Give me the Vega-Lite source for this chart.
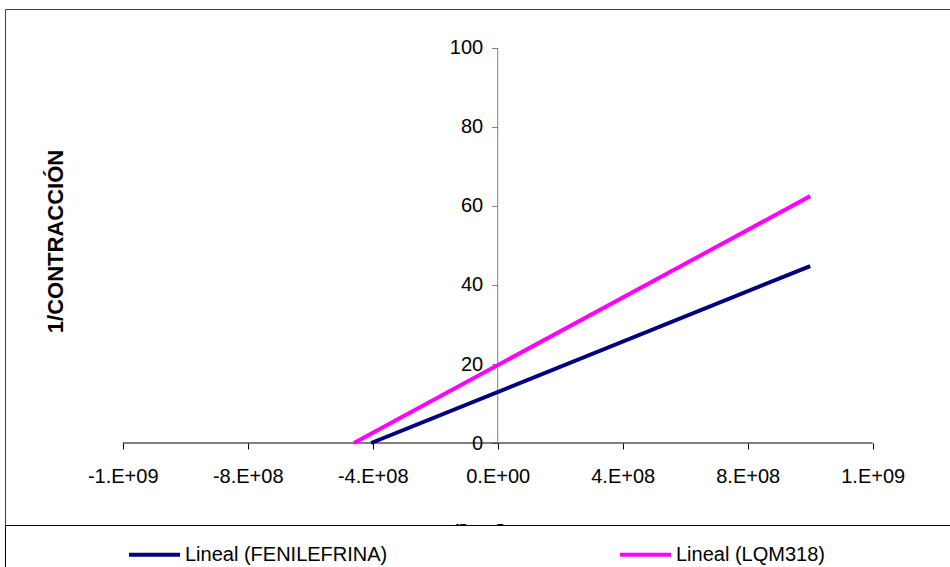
{
  "$schema": "https://vega.github.io/schema/vega-lite/v6.json",
  "width": 945,
  "height": 558,
  "autosize": {"type": "none"},
  "padding": {"left": 5, "top": 9, "right": 0, "bottom": 0},
  "background": "#ffffff",
  "config": {
    "view": {"stroke": "#404040", "strokeWidth": 1},
    "font": "Liberation Sans"
  },
  "layer": [
    {
      "data": {"values": [{}]},
      "mark": {"type": "rule", "color": "#000000", "strokeWidth": 1},
      "encoding": {
        "x": {"datum": -1200000000, "type": "quantitative"},
        "x2": {"datum": 1200000000},
        "y": {"datum": 0, "type": "quantitative"}
      }
    },
    {
      "data": {"values": [{}]},
      "mark": {"type": "rule", "color": "#808080", "strokeWidth": 1},
      "encoding": {
        "x": {"datum": 0, "type": "quantitative"},
        "y": {"datum": 0, "type": "quantitative"},
        "y2": {"datum": 100}
      }
    },
    {
      "data": {
        "values": [
          {"x": -405000000, "y": 0, "serie": "Lineal (FENILEFRINA)"},
          {"x": 1000000000, "y": 44.8, "serie": "Lineal (FENILEFRINA)"},
          {"x": -460000000, "y": 0, "serie": "Lineal (LQM318)"},
          {"x": 1000000000, "y": 62.5, "serie": "Lineal (LQM318)"}
        ]
      },
      "mark": {"type": "line", "strokeWidth": 4},
      "encoding": {
        "x": {
          "field": "x",
          "type": "quantitative",
          "scale": {"domain": [-1576640000, 1447360000], "nice": false, "zero": false},
          "axis": {
            "orient": "bottom",
            "offset": -124,
            "values": [-1200000000, -800000000, -400000000, 0, 400000000, 800000000, 1200000000],
            "labelExpr": "datum.value == 0 ? '0.E+00' : (datum.value < 0 ? '-' : '') + (abs(datum.value) > 1000000000 ? '1.E+09' : format(abs(datum.value)/100000000, 'd') + '.E+08')",
            "domain": false,
            "grid": false,
            "ticks": true,
            "tickSize": 6,
            "tickColor": "#000000",
            "labelFont": "Liberation Sans",
            "labelFontSize": 20,
            "labelColor": "#000000",
            "labelBaseline": "alphabetic",
            "labelPadding": 33,
            "labelFlush": false,
            "labelOverlap": false,
            "title": "1/[ M ]",
            "titleFont": "Liberation Sans",
            "titleFontSize": 22,
            "titleFontWeight": "bold",
            "titleColor": "#000000",
            "titleX": 467,
            "titleY": 96,
            "titleBaseline": "alphabetic",
            "titleAlign": "center",
            "zindex": 0
          }
        },
        "y": {
          "field": "y",
          "type": "quantitative",
          "scale": {"domain": [-31.392, 109.873], "nice": false, "zero": false},
          "axis": {
            "orient": "left",
            "offset": -492.7,
            "values": [0, 20, 40, 60, 80, 100],
            "domain": false,
            "grid": false,
            "tickSize": 6,
            "tickColor": "#808080",
            "labelFont": "Liberation Sans",
            "labelFontSize": 20,
            "labelColor": "#000000",
            "labelPadding": 9,
            "labelFlush": false,
            "labelOverlap": false,
            "title": "1/CONTRACCIÓN",
            "titleFont": "Liberation Sans",
            "titleFontSize": 22,
            "titleFontWeight": "bold",
            "titleColor": "#000000",
            "titleAngle": -90,
            "titleBaseline": "middle",
            "titleAlign": "center",
            "titleX": -442,
            "titleY": 232,
            "zindex": 0
          }
        },
        "color": {
          "field": "serie",
          "type": "nominal",
          "scale": {
            "domain": ["Lineal (FENILEFRINA)", "Lineal (LQM318)"],
            "range": ["#000080", "#FF00FF"]
          },
          "legend": {
            "orient": "none",
            "legendX": 0,
            "legendY": 516,
            "direction": "horizontal",
            "columns": 2,
            "title": null,
            "padding": 2,
            "symbolType": "stroke",
            "symbolSize": 2601,
            "symbolStrokeWidth": 4,
            "symbolOffset": 120,
            "labelOffset": 3,
            "columnPadding": 110,
            "labelFont": "Liberation Sans",
            "labelFontSize": 20,
            "labelColor": "#000000",
            "labelLimit": 2000,
            "labelExpr": "datum.label == 'Lineal (LQM318)' ? datum.label + '\u2800\u2800\u2800\u2800\u2800\u2800\u2800\u2800\u2800\u2800\u2800\u2800\u2800\u2800\u2800\u2800\u2800\u2800\u2800\u2800\u2800\u2800\u2800\u2800\u2800\u2800\u2800\u2800\u2800\u2800' : datum.label",
            "fillColor": "#ffffff",
            "strokeColor": "#000000",
            "zindex": 1
          }
        }
      }
    }
  ]
}
